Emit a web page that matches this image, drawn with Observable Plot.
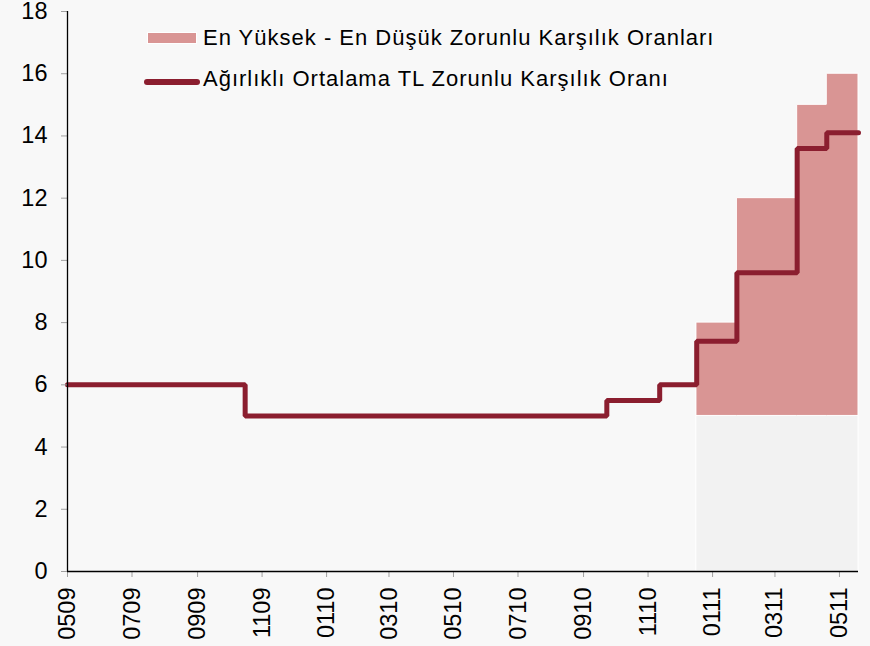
<!DOCTYPE html>
<html><head><meta charset="utf-8">
<script src="https://cdn.jsdelivr.net/npm/d3@7"></script>
<script src="https://cdn.jsdelivr.net/npm/@observablehq/plot@0.6"></script>
<style>
body{margin:0;background:#f8f8f8;}
#wrap{position:relative;width:870px;height:646px;overflow:hidden;}
.leg{position:absolute;font-family:"Liberation Sans",Arial,sans-serif;font-size:22px;letter-spacing:1px;color:#000;white-space:nowrap;line-height:22px;}
</style></head><body><div id="wrap"></div>
<script>
// Weighted average TL reserve requirement ratio (step changes)
const stepDates = ["2009-05-01","2009-10-16","2010-09-23","2010-11-12","2010-12-17","2011-01-24","2011-03-22","2011-04-19","2011-05-19"];
const weighted  = [6, 5, 5.5, 6, 7.4, 9.6, 13.6, 14.1, 14.1];
// Highest - lowest reserve requirement ratios
const bandDates = ["2010-12-17","2011-01-24","2011-03-22","2011-04-19","2011-05-19"];
const bandMin   = [5, 5, 5, 5, 5];
const bandMax   = [8, 12, 15, 16, 16];
const xStart = "2009-05-01", xEnd = "2011-05-19";
const tickLabels = ["0509","0709","0909","1109","0110","0310","0510","0710","0910","1110","0111","0311","0511"];
const yTicks = [0,2,4,6,8,10,12,14,16,18];
const legendBand = "En Yüksek - En Düşük Zorunlu Karşılık Oranları";
const legendLine = "Ağırlıklı Ortalama TL Zorunlu Karşılık Oranı";

const parse = d3.utcParse("%Y-%m-%d");
const lineData = stepDates.map((d,i)=>({date:parse(d), value:weighted[i]}));
const bandData = bandDates.map((d,i)=>({date:parse(d), lo:bandMin[i], hi:bandMax[i]}));
const tickDates = tickLabels.map(s => parse("20"+s.slice(2)+"-"+s.slice(0,2)+"-01"));
const fmt = d3.utcFormat("%m%y");

const chart = Plot.plot({
  width:870, height:646,
  marginLeft:67, marginRight:12, marginTop:11, marginBottom:75,
  style:{background:"#f8f8f8", fontFamily:"'Liberation Sans', Arial, sans-serif", fontSize:"23.5px", color:"#000", overflow:"visible"},
  x:{type:"utc", domain:[parse(xStart), parse(xEnd)], label:null},
  y:{domain:[0,18], label:null},
  marks:[
    Plot.areaY(bandData,{x:"date", y1:0, y2:"lo", curve:"step-after", fill:"#f2f2f2", stroke:"#ffffff", strokeWidth:1}),
    Plot.areaY(bandData,{x:"date", y1:"lo", y2:"hi", curve:"step-after", fill:"#d99594", stroke:"#ffffff", strokeWidth:1}),
    Plot.lineY(lineData,{x:"date", y:"value", curve:"step-after", stroke:"#8b1e2f", strokeWidth:5, strokeLinecap:"round", strokeLinejoin:"miter"}),
    Plot.axisY({ticks:yTicks, tickSize:6, tickPadding:14, stroke:"#a0a0a0", fill:"#000", fontSize:23.5, label:null}),
    Plot.axisX({ticks:tickDates, tickFormat:fmt, tickRotate:-90, tickSize:6, tickPadding:10, stroke:"#a0a0a0", fill:"#000", fontSize:23.5, label:null}),
    Plot.ruleX([parse(xStart)], {stroke:"#000", strokeWidth:1.3}),
    Plot.ruleY([0], {stroke:"#000", strokeWidth:1.3})
  ]
});
const wrap = document.getElementById("wrap");
wrap.appendChild(chart);

function addLegend(top, swatchHTML, label){
  const sw = document.createElement("div");
  sw.innerHTML = swatchHTML;
  sw.style.position="absolute"; sw.style.left="0"; sw.style.top="0";
  wrap.appendChild(sw);
  const t = document.createElement("div");
  t.className="leg"; t.textContent=label;
  t.style.left="203px"; t.style.top=top+"px";
  wrap.appendChild(t);
}
addLegend(26.5, '<div style="position:absolute;left:147px;top:32px;width:48px;height:10px;background:#d99594;border:1px solid #fff"></div>', legendBand);
addLegend(67.5, '<div style="position:absolute;left:144px;top:79px;width:56px;height:6px;background:#8b1e2f;border-radius:3px"></div>', legendLine);
</script></body></html>
